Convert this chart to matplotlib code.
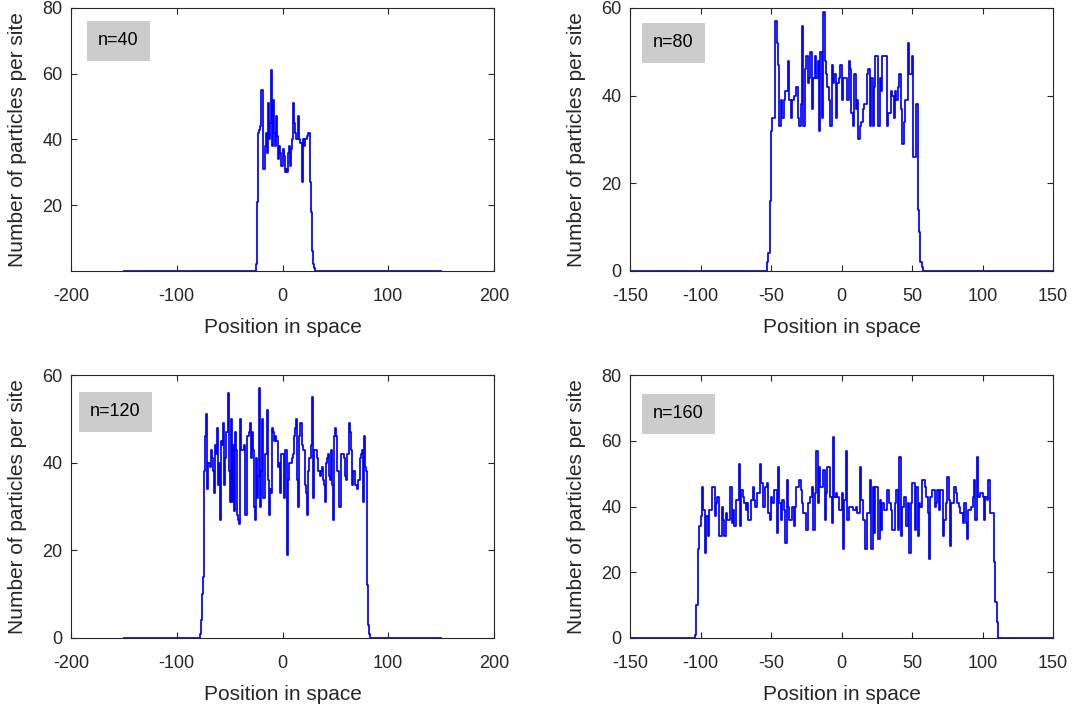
import numpy as np
import matplotlib
matplotlib.use('Agg')
import matplotlib.pyplot as plt

plt.rcParams['font.family'] = ['Liberation Sans', 'DejaVu Sans']
plt.rcParams['axes.unicode_minus'] = False

# site range shown in every panel
x_span = (-150, 150)

# occupation per site (first occupied site, values)
n40_start = -25
n40 = [2, 21, 42, 43, 44, 55, 55, 31, 38, 42, 36, 51, 40, 45, 61, 38, 52, 42, 38, 47,
       41, 34, 38, 36, 32, 37, 35, 30, 31, 30, 36, 38, 32, 37, 40, 51, 45, 42, 40, 40,
       47, 40, 39, 27, 40, 38, 40, 40, 41, 42, 42, 27, 18, 6, 2, 1]

n80_start = -53
n80 = [2, 4, 16, 32, 35, 35, 57, 52, 47, 33, 39, 35, 39, 41, 41, 48, 39, 35, 39, 40,
       40, 42, 35, 33, 38, 56, 33, 46, 49, 43, 44, 50, 37, 44, 49, 44, 48, 32, 50, 35,
       59, 48, 45, 42, 39, 33, 47, 43, 45, 35, 43, 44, 47, 39, 44, 44, 44, 39, 48, 46,
       36, 33, 45, 37, 39, 30, 33, 34, 37, 38, 38, 45, 46, 33, 44, 33, 42, 49, 49, 33,
       44, 41, 49, 49, 49, 33, 36, 36, 41, 40, 35, 41, 39, 42, 45, 37, 29, 34, 39, 39,
       52, 45, 45, 49, 26, 26, 38, 14, 9, 2, 1]

n120_start = -78
n120 = [1, 4, 10, 14, 38, 46, 51, 34, 40, 39, 43, 41, 38, 33, 44, 42, 48, 35, 40, 27,
        45, 44, 49, 35, 41, 47, 56, 38, 31, 50, 31, 44, 29, 47, 43, 28, 27, 26, 50, 43,
        43, 43, 44, 28, 46, 46, 47, 49, 41, 47, 43, 30, 27, 41, 32, 37, 57, 30, 38, 50,
        32, 42, 42, 52, 36, 28, 34, 33, 48, 47, 45, 46, 45, 45, 39, 40, 33, 42, 42, 32,
        43, 43, 19, 36, 40, 40, 40, 41, 42, 46, 48, 50, 36, 30, 46, 49, 44, 43, 43, 35,
        33, 28, 38, 41, 41, 44, 55, 32, 43, 43, 43, 41, 38, 37, 38, 39, 36, 35, 31, 40,
        41, 42, 37, 36, 43, 35, 27, 46, 48, 46, 38, 30, 30, 42, 42, 42, 41, 37, 36, 42,
        42, 49, 47, 43, 35, 38, 38, 35, 34, 36, 36, 41, 42, 43, 31, 46, 39, 38, 12, 3, 1]

n160_start = -104
n160 = [1, 10, 27, 34, 37, 46, 39, 26, 37, 31, 39, 39, 46, 46, 37, 41, 43, 31, 31, 40,
        36, 31, 38, 36, 36, 46, 35, 39, 34, 42, 42, 53, 34, 45, 43, 41, 39, 41, 36, 36,
        42, 46, 42, 40, 44, 44, 53, 47, 40, 40, 46, 47, 38, 36, 43, 41, 45, 45, 32, 52,
        41, 36, 42, 39, 29, 48, 40, 36, 36, 40, 34, 40, 46, 46, 48, 45, 41, 38, 38, 33,
        41, 41, 43, 46, 33, 44, 57, 41, 52, 46, 46, 51, 36, 44, 52, 52, 43, 35, 61, 43,
        44, 43, 39, 39, 44, 27, 42, 57, 36, 40, 40, 40, 39, 39, 40, 38, 38, 52, 42, 36,
        36, 27, 38, 38, 48, 27, 46, 32, 46, 46, 30, 42, 33, 41, 39, 39, 45, 45, 41, 39,
        33, 33, 41, 45, 33, 55, 31, 40, 43, 43, 34, 41, 26, 41, 47, 47, 33, 46, 31, 41,
        40, 48, 48, 46, 43, 38, 24, 43, 45, 45, 40, 41, 45, 39, 45, 45, 31, 36, 41, 49,
        42, 28, 41, 41, 46, 44, 41, 40, 38, 38, 35, 41, 35, 30, 39, 39, 40, 43, 48, 36,
        55, 43, 44, 44, 43, 36, 43, 42, 48, 38, 38, 38, 23, 11, 5]

labels = ['n=40', 'n=80', 'n=120', 'n=160']
xlims = [(-200, 200), (-150, 150), (-200, 200), (-150, 150)]
xticks = [[-200, -100, 0, 100, 200], [-150, -100, -50, 0, 50, 100, 150],
          [-200, -100, 0, 100, 200], [-150, -100, -50, 0, 50, 100, 150]]
ylims = [(0, 80), (0, 60), (0, 60), (0, 80)]
yticks = [[20, 40, 60, 80], [0, 20, 40, 60], [0, 20, 40, 60], [0, 20, 40, 60, 80]]
series = [(n40_start, n40), (n80_start, n80), (n120_start, n120), (n160_start, n160)]


def full_profile(start, vals):
    sites = np.arange(x_span[0], x_span[1] + 1)
    counts = np.zeros(len(sites))
    i0 = start - x_span[0]
    counts[i0:i0 + len(vals)] = vals
    return sites, counts


W, H = 1080, 708
fig = plt.figure(figsize=(W / 100, H / 100), dpi=100)
boxes = [(71, 8, 494, 271), (630, 8, 1053, 271),
         (71, 375, 494, 638), (630, 375, 1053, 638)]
# left edge and vertical centre of each "n=" tag, in pixels
tags = [(86, 41), (641, 43), (78, 412), (641, 414)]
dark = '#262626'

for k in range(4):
    l, t, r, b = boxes[k]
    ax = fig.add_axes([l / W, 1 - b / H, (r - l) / W, (b - t) / H])
    sites, counts = full_profile(*series[k])
    ax.step(sites, counts, where='post', color='#0000ff', lw=1.25)
    ax.set_xlim(*xlims[k])
    ax.set_ylim(*ylims[k])
    ax.set_xticks(xticks[k])
    ax.set_yticks(yticks[k])
    ax.tick_params(direction='in', top=True, right=True, labelsize=13,
                   colors=dark, length=4, width=0.8)
    ax.tick_params(axis='x', pad=12)
    ax.tick_params(axis='y', pad=6)
    for s in ax.spines.values():
        s.set_color(dark)
        s.set_linewidth(0.8)
    ax.set_xlabel('Position in space', fontsize=15, color=dark)
    ax.set_ylabel('Number of particles per site', fontsize=15, color=dark)
    ax.xaxis.set_label_coords(0.5, -0.178)
    ax.yaxis.set_label_coords(-0.105, 0.5)
    tx, ty = tags[k]
    ax.text((tx + 12 - l) / (r - l), (b - ty) / (b - t), labels[k],
            transform=ax.transAxes, fontsize=13, ha='left', va='center', color='black',
            bbox=dict(facecolor='#cccccc', edgecolor='none', pad=8))

fig.savefig('out.png', dpi=100)
